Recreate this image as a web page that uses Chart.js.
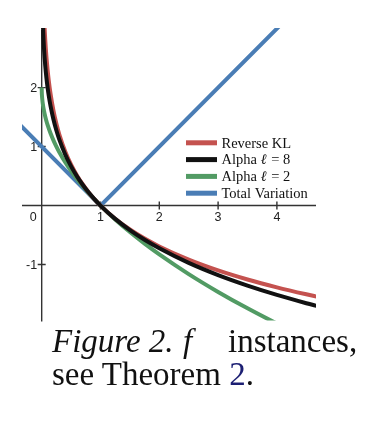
<!DOCTYPE html>
<html>
<head>
<meta charset="utf-8">
<script src="https://cdn.jsdelivr.net/npm/chart.js@4"></script>
<style>
  html, body { margin:0; padding:0; background:#fff; }
  body { width:381px; height:421px; position:relative; overflow:hidden; }
  #wrap { position:absolute; left:0; top:0; width:381px; height:335px; }
  .cap { position:absolute; font-family:"Liberation Serif","Times New Roman",serif; font-size:33px; line-height:33px; color:#111; white-space:nowrap; }
  .link { color:#1c1f73; }
</style>
</head>
<body>
<div id="wrap"><canvas id="c" width="381" height="335"></canvas></div>
<div class="cap" style="left:52px; top:325px;"><i>Figure 2.</i></div>
<div class="cap" style="left:183px; top:325px;"><i>f</i></div>
<div class="cap" style="left:228px; top:325px;">instances,</div>
<div class="cap" style="left:52px; top:358px;">see Theorem <span class="link">2</span>.</div>
<script>
// ---- data ----
const seriesLabels = ["Reverse KL", "Alpha \u2113 = 8", "Alpha \u2113 = 2", "Total Variation"];

const reverseKlT = [0.045,0.05,0.06,0.07,0.08,0.09,0.1,0.12,0.15,0.2,0.25,0.3,0.4,0.5,0.6,0.7,0.8,0.9,1,1.25,1.5,1.75,2,2.5,3,3.5,4,4.5,4.7];
const reverseKlY = [3.101,2.996,2.813,2.659,2.526,2.408,2.303,2.120,1.897,1.609,1.386,1.204,0.916,0.693,0.511,0.357,0.223,0.105,0,-0.223,-0.405,-0.560,-0.693,-0.916,-1.099,-1.253,-1.386,-1.504,-1.548];

const alpha8T = [0.02,0.03,0.04,0.05,0.06,0.08,0.1,0.12,0.15,0.2,0.25,0.3,0.4,0.5,0.6,0.7,0.8,0.9,1,1.25,1.5,1.75,2,2.5,3,3.5,4,4.5,4.7];
const alpha8Y = [3.094,2.839,2.650,2.499,2.372,2.166,2.001,1.862,1.689,1.458,1.273,1.118,0.866,0.664,0.495,0.349,0.220,0.105,0,-0.226,-0.416,-0.580,-0.724,-0.971,-1.178,-1.356,-1.514,-1.655,-1.707];

const alpha2T = [0,0.002,0.005,0.01,0.02,0.04,0.06,0.08,0.1,0.15,0.2,0.25,0.3,0.4,0.5,0.6,0.7,0.8,0.9,1,1.25,1.5,1.75,2,2.5,3,3.5,4,4.5];
const alpha2Y = [2,1.911,1.859,1.8,1.717,1.6,1.510,1.434,1.368,1.225,1.106,1.0,0.905,0.735,0.586,0.451,0.327,0.211,0.103,0,-0.236,-0.449,-0.646,-0.828,-1.162,-1.464,-1.742,-2.0,-2.243];

const tvT = [-0.5, 1, 4.5];
const tvY = [1.5, 0, 3.5];

const xTickValues = [0, 1, 2, 3, 4];
const yTickValues = [-1, 1, 2];

// ---- styles ----
const colors = ["#c4524f", "#111111", "#529b64", "#4a7db5"];

function pts(xs, ys) { return xs.map((v, i) => ({ x: v, y: ys[i] })); }

const datasets = [
  { label: seriesLabels[0], data: pts(reverseKlT, reverseKlY), borderColor: colors[0], order: 1 },
  { label: seriesLabels[1], data: pts(alpha8T, alpha8Y), borderColor: colors[1], order: 0 },
  { label: seriesLabels[2], data: pts(alpha2T, alpha2Y), borderColor: colors[2], order: 2 },
  { label: seriesLabels[3], data: pts(tvT, tvY), borderColor: colors[3], order: 3, tension: 0, cubicInterpolationMode: 'default' }
].map(d => Object.assign({ borderWidth: 4, pointRadius: 0, fill: false, clip: 0, cubicInterpolationMode: 'monotone', borderCapStyle: 'butt' }, d));

const axesPlugin = {
  id: 'crossAxes',
  beforeDatasetsDraw(chart) {
    const { ctx, chartArea: a, scales: { x, y } } = chart;
    const ox = x.getPixelForValue(0), oy = y.getPixelForValue(0);
    ctx.save();
    ctx.strokeStyle = '#333';
    ctx.lineWidth = 1.4;
    ctx.beginPath();
    ctx.moveTo(a.left, oy); ctx.lineTo(a.right, oy);
    ctx.moveTo(ox, a.top + 2); ctx.lineTo(ox, a.bottom + 1);
    xTickValues.forEach(v => { if (v !== 0) { const px = x.getPixelForValue(v); ctx.moveTo(px, oy - 4); ctx.lineTo(px, oy + 4); } });
    yTickValues.forEach(v => { const py = y.getPixelForValue(v); ctx.moveTo(ox - 4, py); ctx.lineTo(ox + 4, py); });
    ctx.stroke();
    ctx.fillStyle = '#222';
    ctx.font = '12.5px "Liberation Sans", Arial, sans-serif';
    ctx.textBaseline = 'alphabetic';
    xTickValues.forEach(v => {
      const px = x.getPixelForValue(v);
      if (v === 0) { ctx.textAlign = 'right'; ctx.fillText(String(v), ox - 5, oy + 15.5); }
      else { ctx.textAlign = 'center'; ctx.fillText(String(v), px, oy + 15.5); }
    });
    ctx.textAlign = 'right';
    yTickValues.forEach(v => {
      const py = y.getPixelForValue(v);
      ctx.fillText(String(v), ox - 4.5, py + 4.6);
    });
    ctx.restore();
  },
  afterDatasetsDraw(chart) {
    const { ctx } = chart;
    ctx.save();
    const x0 = 186, x1 = 217, ys = [142.8, 159.6, 176.4, 193.2];
    chart.data.datasets.forEach((d, i) => {
      ctx.fillStyle = d.borderColor;
      ctx.fillRect(x0, ys[i] - 2.5, x1 - x0, 5);
      ctx.fillStyle = '#111';
      ctx.textAlign = 'left';
      ctx.textBaseline = 'alphabetic';
      const base = ys[i] + 4.8;
      const label = d.label;
      const idx = label.indexOf('\u2113');
      const upright = '14.5px "Liberation Serif", "Times New Roman", serif';
      const italic = 'italic 14.5px "Liberation Serif", "Times New Roman", serif';
      let cx = 221.5;
      if (idx < 0) {
        ctx.font = upright; ctx.fillText(label, cx, base);
      } else {
        const pre = label.slice(0, idx), post = label.slice(idx + 1);
        ctx.font = upright; ctx.fillText(pre, cx, base); cx += ctx.measureText(pre).width;
        ctx.font = italic; ctx.fillText('\u2113', cx, base); cx += ctx.measureText('\u2113').width;
        ctx.font = upright; ctx.fillText(post, cx + 1, base);
      }
    });
    ctx.restore();
  }
};

new Chart(document.getElementById('c'), {
  type: 'line',
  data: { datasets },
  options: {
    responsive: false,
    devicePixelRatio: 1,
    animation: false,
    layout: { padding: { left: 22, right: 65, top: 28, bottom: 14.4 } },
    scales: {
      x: { type: 'linear', min: -0.335, max: 4.665, display: false },
      y: { type: 'linear', min: -1.95, max: 3.01, display: false }
    },
    plugins: { legend: { display: false }, tooltip: { enabled: false } }
  },
  plugins: [axesPlugin]
});
</script>
</body>
</html>
